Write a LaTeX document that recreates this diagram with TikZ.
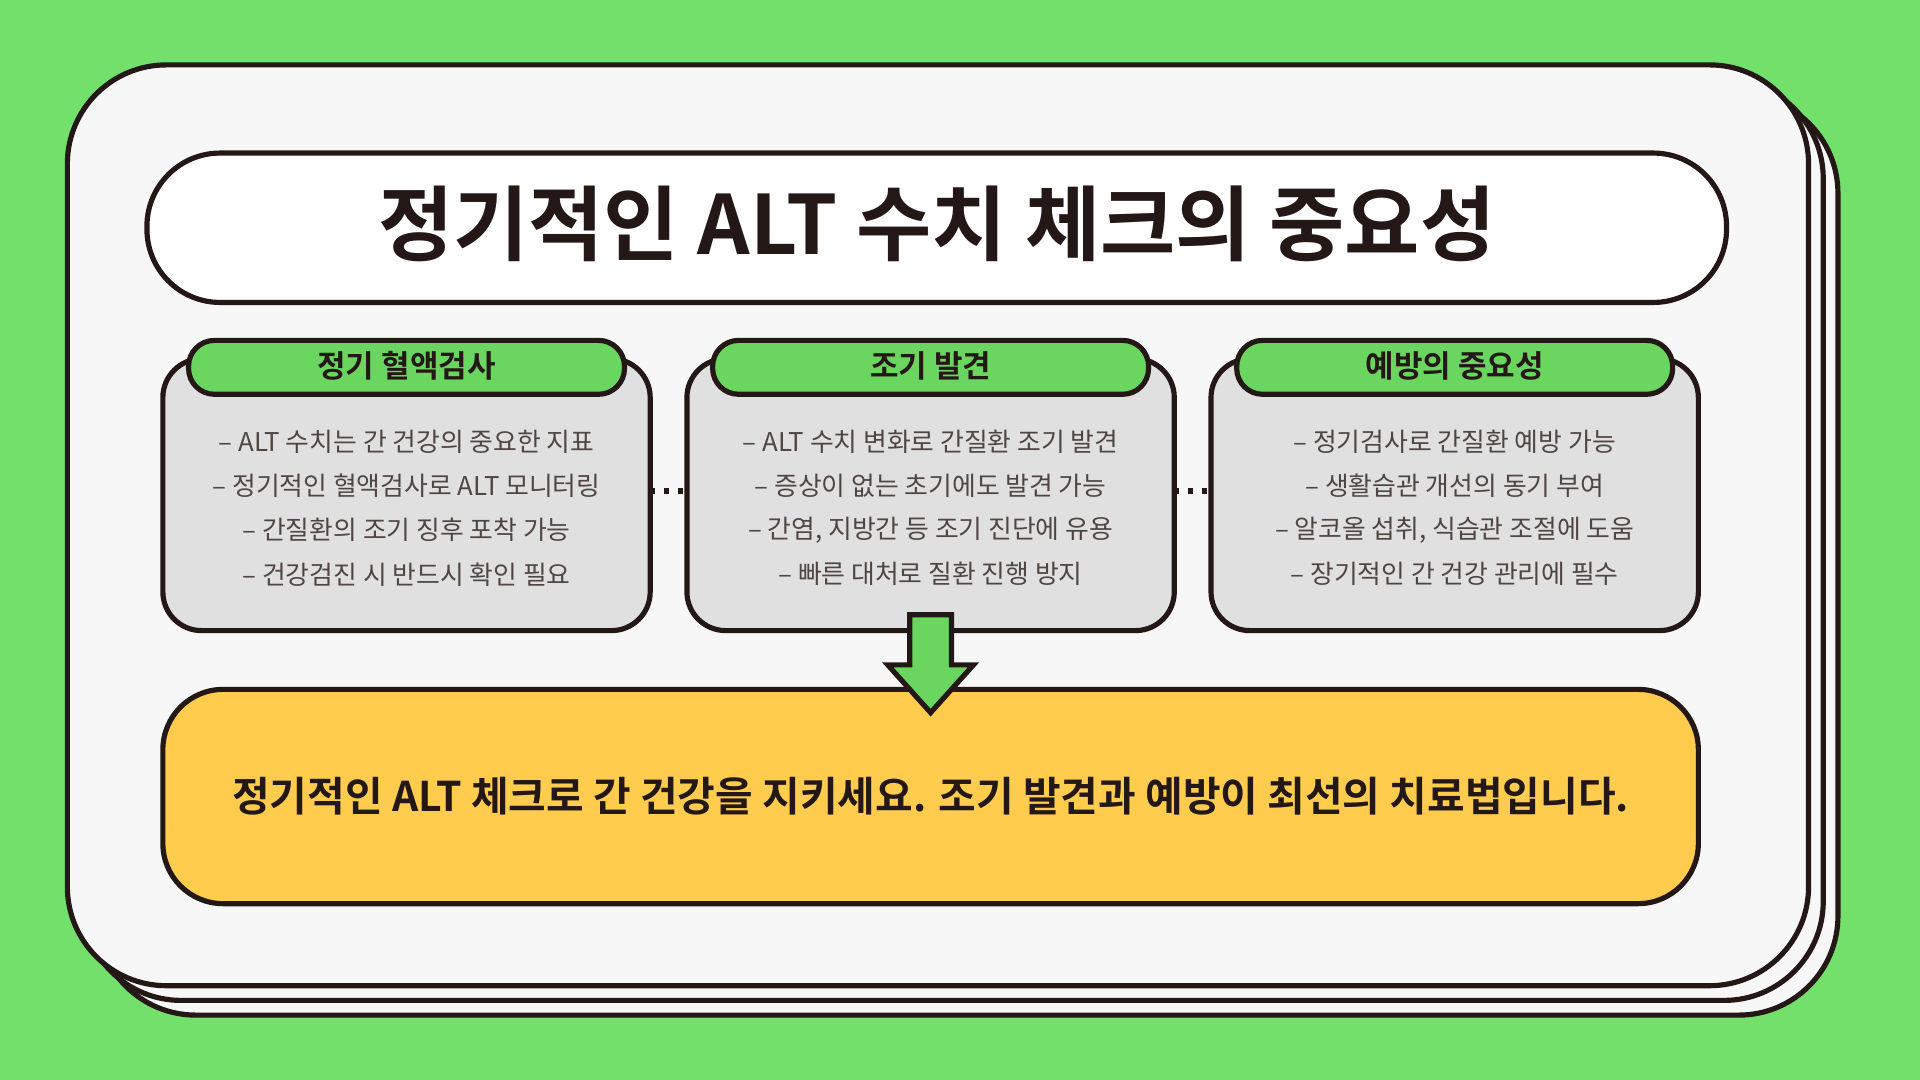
\documentclass[tikz,border=0pt]{standalone}
\usepackage{fontspec}
\newfontfamily\kr{Noto Sans CJK KR}
\newfontfamily\krb{Noto Sans CJK KR Bold}
\definecolor{bg}{HTML}{74E06C}
\definecolor{ink}{HTML}{231815}
\definecolor{card}{HTML}{F7F7F7}
\definecolor{gbox}{HTML}{E0E0E0}
\definecolor{gpill}{HTML}{6BD65F}
\definecolor{yel}{HTML}{FFCC4D}
\begin{document}
\begin{tikzpicture}[x=0.01cm,y=-0.01cm,
 line/.style={draw=ink,line width=1.2pt},
 body/.style={font=\kr\fontsize{6}{7}\selectfont,text=ink!80},
 head/.style={font=\krb\fontsize{7.2}{8}\selectfont,text=ink}]
\fill[bg] (0,0) rectangle (1568,882);
\useasboundingbox (0,0) rectangle (1568,882);
\draw[line,fill=card,rounded corners=23pt] (79,77) rectangle (1501,829);
\draw[line,fill=card,rounded corners=23pt] (67,65) rectangle (1489,817);
\draw[line,fill=card,rounded corners=23pt] (55,53) rectangle (1477,805);
\draw[line,fill=white,rounded corners=17pt] (120,125) rectangle (1410,247);
\node[font=\krb\fontsize{19}{23}\selectfont,text=ink] (title) at (765,183) {정기적인 ALT 수치 체크의 중요성};
\foreach \n/\px/\hh/\la/\lb/\lc/\ld in {
 a/332/{정기 혈액검사}/{– ALT 수치는 간 건강의 중요한 지표}/{– 정기적인 혈액검사로 ALT 모니터링}/{– 간질환의 조기 징후 포착 가능}/{– 건강검진 시 반드시 확인 필요},
 b/760/{조기 발견}/{– ALT 수치 변화로 간질환 조기 발견}/{– 증상이 없는 초기에도 발견 가능}/{– 간염, 지방간 등 조기 진단에 유용}/{– 빠른 대처로 질환 진행 방지},
 c/1188/{예방의 중요성}/{– 정기검사로 간질환 예방 가능}/{– 생활습관 개선의 동기 부여}/{– 알코올 섭취, 식습관 조절에 도움}/{– 장기적인 간 건강 관리에 필수}}{
 \draw[line,fill=gbox,rounded corners=9pt] (\px-199,293) rectangle (\px+199,515);
 \coordinate (\n W) at (\px-199,401); \coordinate (\n E) at (\px+199,401);
 \draw[line,fill=gpill,rounded corners=6pt] (\px-178,278) rectangle (\px+178,322);
 \node[head] (\n h) at (\px,299) {\hh};
 \node[body] (\n1) at (\px,361) {\la};
 \node[body] (\n2) at (\px,397) {\lb};
 \node[body] (\n3) at (\px,433) {\lc};
 \node[body] (\n4) at (\px,469) {\ld};
}
\draw[line,dotted] (aE) -- (bW);
\draw[line,dotted] (bE) -- (cW);
\draw[line,fill=yel,rounded corners=14pt] (133,563) rectangle (1387,738);
\node[font=\krb\fontsize{9.5}{12}\selectfont,text=ink] (msg) at (760,650) {정기적인 ALT 체크로 간 건강을 지키세요. 조기 발견과 예방이 최선의 치료법입니다.};
\draw[line,fill=gpill,line join=miter] (743,502) -- (777,502) -- (777,543) -- (795,543) -- (760,582) -- (725,543) -- (743,543) -- cycle;
\end{tikzpicture}
\end{document}
